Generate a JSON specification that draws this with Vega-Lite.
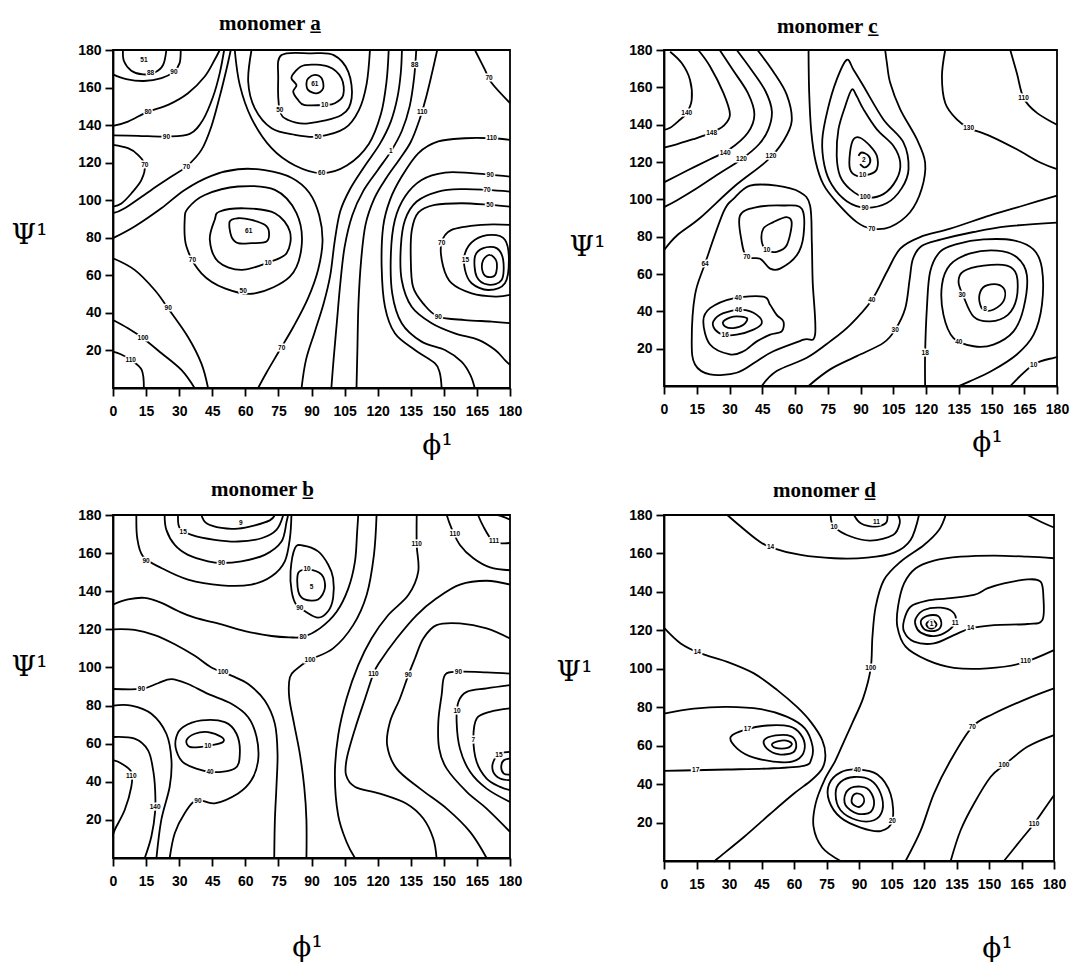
{
"$schema":"https://vega.github.io/schema/vega-lite/v6.json",
"background":"white",
"padding":{"left":10,"top":12,"right":0,"bottom":0},
"columns":2,
"spacing":{"row":127,"column":154},
"bounds":"flush",
"config":{
 "view":{"stroke":"black","strokeWidth":1.8},
 "axis":{"domainColor":"black","domainWidth":1.8,"tickColor":"black","tickWidth":1.8,"tickSize":8,"labelFont":"Liberation Sans","labelFontWeight":"bold","labelFontSize":14,"labelColor":"black","grid":false,"titleFont":"DejaVu Serif","titleFontSize":28,"titleFontWeight":"normal","titleColor":"black","titleBaseline":"middle","titleAlign":"center"},
 "axisX":{"labelFlush":false,"labelPadding":8},
 "axisY":{"titleAngle":0,"labelPadding":4},
 "title":{"font":"Liberation Serif","fontSize":21,"fontWeight":"bold","color":"black"}
},
"concat":[
  {"width":397,"height":338,
   "title":{"text":"monomer  a̲","anchor":"start","frame":"group","dx":106,"offset":9},
   "encoding":{
    "x":{"field":"phi","type":"quantitative","scale":{"domain":[0,180],"nice":false,"zero":false},"axis":{"values":[0,15,30,45,60,75,90,105,120,135,150,165,180],"title":"ϕ¹","titleX":324,"titleY":57}},
    "y":{"field":"psi","type":"quantitative","scale":{"domain":[0,180],"nice":false,"zero":false},"axis":{"values":[20,40,60,80,100,120,140,160,180],"title":"Ψ¹","titleX":-84,"titleY":185}}},
   "layer":[
    {"data":{"name":"a_open"},"mark":{"type":"line","interpolate":"cardinal","color":"black","strokeWidth":1.8},"encoding":{"detail":{"field":"k"},"order":{"field":"n"}}},
    {"data":{"name":"a_closed"},"mark":{"type":"line","interpolate":"cardinal-closed","color":"black","strokeWidth":1.8},"encoding":{"detail":{"field":"k"},"order":{"field":"n"}}},
    {"data":{"name":"a_lab"},"mark":{"type":"text","font":"Liberation Sans","fontSize":6.5,"fontWeight":"bold","fill":"white","stroke":"white","strokeWidth":3},"encoding":{"text":{"field":"t"}}},
    {"data":{"name":"a_lab"},"mark":{"type":"text","font":"Liberation Sans","fontSize":6.5,"fontWeight":"bold","fill":"black"},"encoding":{"text":{"field":"t"}}}
   ]},
  {"width":393,"height":336,
   "title":{"text":"monomer  c̲","anchor":"start","frame":"group","dx":113,"offset":6},
   "encoding":{
    "x":{"field":"phi","type":"quantitative","scale":{"domain":[0,180],"nice":false,"zero":false},"axis":{"values":[0,15,30,45,60,75,90,105,120,135,150,165,180],"title":"ϕ¹","titleX":323,"titleY":56}},
    "y":{"field":"psi","type":"quantitative","scale":{"domain":[0,180],"nice":false,"zero":false},"axis":{"values":[20,40,60,80,100,120,140,160,180],"title":"Ψ¹","titleX":-77,"titleY":197}}},
   "layer":[
    {"data":{"name":"c_open"},"mark":{"type":"line","interpolate":"cardinal","color":"black","strokeWidth":1.8},"encoding":{"detail":{"field":"k"},"order":{"field":"n"}}},
    {"data":{"name":"c_closed"},"mark":{"type":"line","interpolate":"cardinal-closed","color":"black","strokeWidth":1.8},"encoding":{"detail":{"field":"k"},"order":{"field":"n"}}},
    {"data":{"name":"c_lab"},"mark":{"type":"text","font":"Liberation Sans","fontSize":6.5,"fontWeight":"bold","fill":"white","stroke":"white","strokeWidth":3},"encoding":{"text":{"field":"t"}}},
    {"data":{"name":"c_lab"},"mark":{"type":"text","font":"Liberation Sans","fontSize":6.5,"fontWeight":"bold","fill":"black"},"encoding":{"text":{"field":"t"}}}
   ]},
  {"width":397,"height":343,
   "title":{"text":"monomer  b̲","anchor":"start","frame":"group","dx":98,"offset":8},
   "encoding":{
    "x":{"field":"phi","type":"quantitative","scale":{"domain":[0,180],"nice":false,"zero":false},"axis":{"values":[0,15,30,45,60,75,90,105,120,135,150,165,180],"title":"ϕ¹","titleX":194,"titleY":89}},
    "y":{"field":"psi","type":"quantitative","scale":{"domain":[0,180],"nice":false,"zero":false},"axis":{"values":[20,40,60,80,100,120,140,160,180],"title":"Ψ¹","titleX":-84,"titleY":152}}},
   "layer":[
    {"data":{"name":"b_open"},"mark":{"type":"line","interpolate":"cardinal","color":"black","strokeWidth":1.8},"encoding":{"detail":{"field":"k"},"order":{"field":"n"}}},
    {"data":{"name":"b_closed"},"mark":{"type":"line","interpolate":"cardinal-closed","color":"black","strokeWidth":1.8},"encoding":{"detail":{"field":"k"},"order":{"field":"n"}}},
    {"data":{"name":"b_lab"},"mark":{"type":"text","font":"Liberation Sans","fontSize":6.5,"fontWeight":"bold","fill":"white","stroke":"white","strokeWidth":3},"encoding":{"text":{"field":"t"}}},
    {"data":{"name":"b_lab"},"mark":{"type":"text","font":"Liberation Sans","fontSize":6.5,"fontWeight":"bold","fill":"black"},"encoding":{"text":{"field":"t"}}}
   ]},
  {"width":390,"height":346,
   "title":{"text":"monomer  d̲","anchor":"start","frame":"group","dx":109,"offset":7},
   "encoding":{
    "x":{"field":"phi","type":"quantitative","scale":{"domain":[0,180],"nice":false,"zero":false},"axis":{"values":[0,15,30,45,60,75,90,105,120,135,150,165,180],"title":"ϕ¹","titleX":333,"titleY":87}},
    "y":{"field":"psi","type":"quantitative","scale":{"domain":[0,180],"nice":false,"zero":false},"axis":{"values":[20,40,60,80,100,120,140,160,180],"title":"Ψ¹","titleX":-90,"titleY":157}}},
   "layer":[
    {"data":{"name":"d_open"},"mark":{"type":"line","interpolate":"cardinal","color":"black","strokeWidth":1.8},"encoding":{"detail":{"field":"k"},"order":{"field":"n"}}},
    {"data":{"name":"d_closed"},"mark":{"type":"line","interpolate":"cardinal-closed","color":"black","strokeWidth":1.8},"encoding":{"detail":{"field":"k"},"order":{"field":"n"}}},
    {"data":{"name":"d_lab"},"mark":{"type":"text","font":"Liberation Sans","fontSize":6.5,"fontWeight":"bold","fill":"white","stroke":"white","strokeWidth":3},"encoding":{"text":{"field":"t"}}},
    {"data":{"name":"d_lab"},"mark":{"type":"text","font":"Liberation Sans","fontSize":6.5,"fontWeight":"bold","fill":"black"},"encoding":{"text":{"field":"t"}}}
   ]}
],
"datasets":{
"a_open":[
{"k":"a1","n":0,"phi":4.5,"psi":180},{"k":"a1","n":1,"phi":5,"psi":174},{"k":"a1","n":2,"phi":8.3,"psi":169},{"k":"a1","n":3,"phi":13.6,"psi":167},{"k":"a1","n":4,"phi":18.9,"psi":168},{"k":"a1","n":5,"phi":22.7,"psi":172},{"k":"a1","n":6,"phi":24.2,"psi":180},
{"k":"a2","n":0,"phi":30.7,"psi":180},{"k":"a2","n":1,"phi":30.2,"psi":173},{"k":"a2","n":2,"phi":27.6,"psi":168.5},{"k":"a2","n":3,"phi":22,"psi":165},{"k":"a2","n":4,"phi":14,"psi":163.5},{"k":"a2","n":5,"phi":6,"psi":164.5},{"k":"a2","n":6,"phi":0,"psi":167},
{"k":"a3","n":0,"phi":0,"psi":139.6},{"k":"a3","n":1,"phi":6.8,"psi":141.9},{"k":"a3","n":2,"phi":15.9,"psi":147.2},{"k":"a3","n":3,"phi":25,"psi":150.8},{"k":"a3","n":4,"phi":34,"psi":157},{"k":"a3","n":5,"phi":41.6,"psi":165.9},{"k":"a3","n":6,"phi":46.1,"psi":174.8},{"k":"a3","n":7,"phi":48.4,"psi":180},
{"k":"a4","n":0,"phi":0,"psi":134.5},{"k":"a4","n":1,"phi":11.3,"psi":134.3},{"k":"a4","n":2,"phi":24.2,"psi":133.9},{"k":"a4","n":3,"phi":34.8,"psi":135.3},{"k":"a4","n":4,"phi":40.8,"psi":142.8},{"k":"a4","n":5,"phi":45.4,"psi":155.2},{"k":"a4","n":6,"phi":48.4,"psi":167.7},{"k":"a4","n":7,"phi":50.4,"psi":180},
{"k":"a5","n":0,"phi":0,"psi":129.5},{"k":"a5","n":1,"phi":6.8,"psi":127.7},{"k":"a5","n":2,"phi":11.3,"psi":124.2},{"k":"a5","n":3,"phi":14.4,"psi":118.8},{"k":"a5","n":4,"phi":12.9,"psi":110.8},{"k":"a5","n":5,"phi":8.3,"psi":103.6},{"k":"a5","n":6,"phi":3.8,"psi":98.3},{"k":"a5","n":7,"phi":0,"psi":96.6},
{"k":"a6","n":0,"phi":0,"psi":93.1},{"k":"a6","n":1,"phi":5.3,"psi":95.7},{"k":"a6","n":2,"phi":17.4,"psi":105.5},{"k":"a6","n":3,"phi":26.5,"psi":112.6},{"k":"a6","n":4,"phi":33.3,"psi":117.9},{"k":"a6","n":5,"phi":40.1,"psi":126.8},{"k":"a6","n":6,"phi":44.6,"psi":139.3},{"k":"a6","n":7,"phi":48.4,"psi":155.3},{"k":"a6","n":8,"phi":51.4,"psi":169.5},{"k":"a6","n":9,"phi":53.4,"psi":180},
{"k":"a9","n":0,"phi":0,"psi":79.8},{"k":"a9","n":1,"phi":9.8,"psi":86},{"k":"a9","n":2,"phi":21.9,"psi":95.7},{"k":"a9","n":3,"phi":32.5,"psi":105.5},{"k":"a9","n":4,"phi":44.6,"psi":113},{"k":"a9","n":5,"phi":56.7,"psi":116.5},{"k":"a9","n":6,"phi":68.8,"psi":116},{"k":"a9","n":7,"phi":80.9,"psi":112},{"k":"a9","n":8,"phi":89,"psi":104},{"k":"a9","n":9,"phi":93.5,"psi":92},{"k":"a9","n":10,"phi":95,"psi":78},{"k":"a9","n":11,"phi":93,"psi":63},{"k":"a9","n":12,"phi":88.5,"psi":48},{"k":"a9","n":13,"phi":82,"psi":33},{"k":"a9","n":14,"phi":75,"psi":19},{"k":"a9","n":15,"phi":69.5,"psi":8},{"k":"a9","n":16,"phi":65.8,"psi":0},
{"k":"a8","n":0,"phi":55.2,"psi":180},{"k":"a8","n":1,"phi":57.5,"psi":161.3},{"k":"a8","n":2,"phi":62.8,"psi":143.6},{"k":"a8","n":3,"phi":71.9,"psi":127.7},{"k":"a8","n":4,"phi":82.5,"psi":118.5},{"k":"a8","n":5,"phi":94.6,"psi":114.4},{"k":"a8","n":6,"phi":106,"psi":118.5},{"k":"a8","n":7,"phi":116,"psi":130},{"k":"a8","n":8,"phi":121.5,"psi":146},{"k":"a8","n":9,"phi":124,"psi":163},{"k":"a8","n":10,"phi":125,"psi":180},
{"k":"v1","n":0,"phi":85.5,"psi":0},{"k":"v1","n":1,"phi":87.5,"psi":15},{"k":"v1","n":2,"phi":91.5,"psi":30},{"k":"v1","n":3,"phi":95.5,"psi":45},{"k":"v1","n":4,"phi":98.5,"psi":60},{"k":"v1","n":5,"phi":100.5,"psi":78},{"k":"v1","n":6,"phi":103,"psi":94},{"k":"v1","n":7,"phi":107.5,"psi":106},{"k":"v1","n":8,"phi":114,"psi":118},{"k":"v1","n":9,"phi":121,"psi":130},{"k":"v1","n":10,"phi":126,"psi":142},{"k":"v1","n":11,"phi":129,"psi":155},{"k":"v1","n":12,"phi":130.5,"psi":168},{"k":"v1","n":13,"phi":131,"psi":180},
{"k":"v2","n":0,"phi":99,"psi":0},{"k":"v2","n":1,"phi":100,"psi":15},{"k":"v2","n":2,"phi":101.5,"psi":35},{"k":"v2","n":3,"phi":103,"psi":55},{"k":"v2","n":4,"phi":105,"psi":75},{"k":"v2","n":5,"phi":108.5,"psi":92},{"k":"v2","n":6,"phi":113.5,"psi":105},{"k":"v2","n":7,"phi":120,"psi":116},{"k":"v2","n":8,"phi":126,"psi":126},{"k":"v2","n":9,"phi":131,"psi":137},{"k":"v2","n":10,"phi":134.5,"psi":150},{"k":"v2","n":11,"phi":136.5,"psi":165},{"k":"v2","n":12,"phi":137.5,"psi":180},
{"k":"v3","n":0,"phi":110.4,"psi":0},{"k":"v3","n":1,"phi":110.8,"psi":20},{"k":"v3","n":2,"phi":111.3,"psi":45},{"k":"v3","n":3,"phi":112.5,"psi":68},{"k":"v3","n":4,"phi":114.5,"psi":87},{"k":"v3","n":5,"phi":118.5,"psi":101},{"k":"v3","n":6,"phi":124,"psi":112},{"k":"v3","n":7,"phi":130,"psi":122},{"k":"v3","n":8,"phi":135,"psi":131},{"k":"v3","n":9,"phi":139,"psi":143},{"k":"v3","n":10,"phi":142,"psi":155},{"k":"v3","n":11,"phi":144.5,"psi":167},{"k":"v3","n":12,"phi":147,"psi":180},
{"k":"c1","n":0,"phi":180,"psi":132.1},{"k":"c1","n":1,"phi":171.7,"psi":133},{"k":"c1","n":2,"phi":159.6,"psi":133},{"k":"c1","n":3,"phi":147.5,"psi":131.3},{"k":"c1","n":4,"phi":138.4,"psi":125},{"k":"c1","n":5,"phi":130.9,"psi":112.6},{"k":"c1","n":6,"phi":125.6,"psi":100.2},{"k":"c1","n":7,"phi":122.5,"psi":86},{"k":"c1","n":8,"phi":121.8,"psi":64.7},{"k":"c1","n":9,"phi":123.3,"psi":43.3},{"k":"c1","n":10,"phi":127.8,"psi":29.1},{"k":"c1","n":11,"phi":136.9,"psi":20.2},{"k":"c1","n":12,"phi":146,"psi":13.1},{"k":"c1","n":13,"phi":148.2,"psi":7.8},{"k":"c1","n":14,"phi":149,"psi":0},
{"k":"c2","n":0,"phi":180,"psi":112.6},{"k":"c2","n":1,"phi":162.6,"psi":114.4},{"k":"c2","n":2,"phi":150.5,"psi":114.7},{"k":"c2","n":3,"phi":139.9,"psi":110.8},{"k":"c2","n":4,"phi":132.4,"psi":102},{"k":"c2","n":5,"phi":127.8,"psi":89.5},{"k":"c2","n":6,"phi":126,"psi":71.8},{"k":"c2","n":7,"phi":126.6,"psi":50.4},{"k":"c2","n":8,"phi":130.9,"psi":34.5},{"k":"c2","n":9,"phi":139.9,"psi":24.7},{"k":"c2","n":10,"phi":150.5,"psi":20.2},{"k":"c2","n":11,"phi":158,"psi":14},{"k":"c2","n":12,"phi":162,"psi":7},{"k":"c2","n":13,"phi":164,"psi":0},
{"k":"c3","n":0,"phi":180,"psi":104.6},{"k":"c3","n":1,"phi":169.6,"psi":105.5},{"k":"c3","n":2,"phi":158.3,"psi":105.9},{"k":"c3","n":3,"phi":147.5,"psi":104.6},{"k":"c3","n":4,"phi":137.7,"psi":99.3},{"k":"c3","n":5,"phi":132.4,"psi":89.5},{"k":"c3","n":6,"phi":130.5,"psi":75.3},{"k":"c3","n":7,"phi":130.9,"psi":57.5},{"k":"c3","n":8,"phi":135.4,"psi":43.3},{"k":"c3","n":9,"phi":144.5,"psi":34.5},{"k":"c3","n":10,"phi":155,"psi":29.1},{"k":"c3","n":11,"phi":165.7,"psi":25.6},{"k":"c3","n":12,"phi":173.3,"psi":20.2},{"k":"c3","n":13,"phi":177.7,"psi":14.9},{"k":"c3","n":14,"phi":180,"psi":12.3},
{"k":"c4","n":0,"phi":180,"psi":96.6},{"k":"c4","n":1,"phi":170.9,"psi":97.5},{"k":"c4","n":2,"phi":158,"psi":98.4},{"k":"c4","n":3,"phi":145.9,"psi":97.5},{"k":"c4","n":4,"phi":138.5,"psi":93.5},{"k":"c4","n":5,"phi":135.5,"psi":84.2},{"k":"c4","n":6,"phi":135,"psi":70},{"k":"c4","n":7,"phi":136,"psi":54},{"k":"c4","n":8,"phi":141,"psi":44.5},{"k":"c4","n":9,"phi":147.5,"psi":38},{"k":"c4","n":10,"phi":159.6,"psi":36.2},{"k":"c4","n":11,"phi":171.7,"psi":35.4},{"k":"c4","n":12,"phi":180,"psi":34.5},
{"k":"c5","n":0,"phi":180,"psi":86.9},{"k":"c5","n":1,"phi":167.1,"psi":86.9},{"k":"c5","n":2,"phi":153.5,"psi":84.2},{"k":"c5","n":3,"phi":148.9,"psi":77.1},{"k":"c5","n":4,"phi":149.7,"psi":64.7},{"k":"c5","n":5,"phi":153.5,"psi":55.8},{"k":"c5","n":6,"phi":162.6,"psi":50.4},{"k":"c5","n":7,"phi":173.3,"psi":48.7},{"k":"c5","n":8,"phi":180,"psi":49.6},
{"k":"ctr","n":0,"phi":164.1,"psi":180},{"k":"ctr","n":1,"phi":168.6,"psi":169.5},{"k":"ctr","n":2,"phi":171.7,"psi":162.4},{"k":"ctr","n":3,"phi":180,"psi":151.7},
{"k":"b90","n":0,"phi":0,"psi":69.1},{"k":"b90","n":1,"phi":9.8,"psi":62.9},{"k":"b90","n":2,"phi":18.9,"psi":52.2},{"k":"b90","n":3,"phi":25,"psi":42.4},{"k":"b90","n":4,"phi":34,"psi":27.2},{"k":"b90","n":5,"phi":40.1,"psi":13},{"k":"b90","n":6,"phi":43.1,"psi":0},
{"k":"b100","n":0,"phi":0,"psi":36.2},{"k":"b100","n":1,"phi":6.8,"psi":31.8},{"k":"b100","n":2,"phi":13.6,"psi":26.5},{"k":"b100","n":3,"phi":22,"psi":18.5},{"k":"b100","n":4,"phi":31,"psi":9.6},{"k":"b100","n":5,"phi":37,"psi":0},
{"k":"b110","n":0,"phi":0,"psi":19.4},{"k":"b110","n":1,"phi":3.5,"psi":18},{"k":"b110","n":2,"phi":8,"psi":15},{"k":"b110","n":3,"phi":13,"psi":9.6},{"k":"b110","n":4,"phi":14,"psi":0},
{"k":"t4","n":0,"phi":62.8,"psi":180},{"k":"t4","n":1,"phi":61.3,"psi":163.1},{"k":"t4","n":2,"phi":64.3,"psi":148.9},{"k":"t4","n":3,"phi":71.9,"psi":138.3},{"k":"t4","n":4,"phi":82.5,"psi":134.8},{"k":"t4","n":5,"phi":93,"psi":133.9},{"k":"t4","n":6,"phi":105.1,"psi":138.3},{"k":"t4","n":7,"phi":111.5,"psi":148},{"k":"t4","n":8,"phi":115,"psi":162},{"k":"t4","n":9,"phi":116.5,"psi":180}
],
"a_closed":[
{"k":"r1","n":0,"phi":52.9,"psi":88.6},{"k":"r1","n":1,"phi":56.7,"psi":90.4},{"k":"r1","n":2,"phi":62.8,"psi":89.5},{"k":"r1","n":3,"phi":68.8,"psi":86.9},{"k":"r1","n":4,"phi":70.7,"psi":83.3},{"k":"r1","n":5,"phi":69.6,"psi":78},{"k":"r1","n":6,"phi":62.8,"psi":77.1},{"k":"r1","n":7,"phi":56.7,"psi":77.1},{"k":"r1","n":8,"phi":53.7,"psi":80.6},
{"k":"r2","n":0,"phi":48.4,"psi":94},{"k":"r2","n":1,"phi":59.8,"psi":95.7},{"k":"r2","n":2,"phi":73.4,"psi":93.1},{"k":"r2","n":3,"phi":80.2,"psi":83.3},{"k":"r2","n":4,"phi":78.7,"psi":71.8},{"k":"r2","n":5,"phi":70.3,"psi":66.8},{"k":"r2","n":6,"phi":58.2,"psi":62.9},{"k":"r2","n":7,"phi":47.7,"psi":67.3},{"k":"r2","n":8,"phi":43.9,"psi":78.9},{"k":"r2","n":9,"phi":46.1,"psi":89.5},
{"k":"r3","n":0,"phi":34,"psi":95.7},{"k":"r3","n":1,"phi":41.6,"psi":102.8},{"k":"r3","n":2,"phi":56.7,"psi":107.3},{"k":"r3","n":3,"phi":73.4,"psi":105.5},{"k":"r3","n":4,"phi":83.2,"psi":93.1},{"k":"r3","n":5,"phi":85.5,"psi":75.3},{"k":"r3","n":6,"phi":80.2,"psi":59.3},{"k":"r3","n":7,"phi":64.3,"psi":50.4},{"k":"r3","n":8,"phi":50.7,"psi":53.1},{"k":"r3","n":9,"phi":40.1,"psi":61.1},{"k":"r3","n":10,"phi":33.3,"psi":75.3},{"k":"r3","n":11,"phi":32.5,"psi":89.5},
{"k":"t1","n":0,"phi":88.5,"psi":164.9},{"k":"t1","n":1,"phi":91.5,"psi":166.7},{"k":"t1","n":2,"phi":94.6,"psi":164.9},{"k":"t1","n":3,"phi":95.3,"psi":159.6},{"k":"t1","n":4,"phi":92.3,"psi":156.9},{"k":"t1","n":5,"phi":88.5,"psi":158.7},{"k":"t1","n":6,"phi":87.7,"psi":162.2},
{"k":"t2","n":0,"phi":82.5,"psi":168.4},{"k":"t2","n":1,"phi":87,"psi":172},{"k":"t2","n":2,"phi":97.6,"psi":171.1},{"k":"t2","n":3,"phi":103.6,"psi":164.9},{"k":"t2","n":4,"phi":104.4,"psi":156},{"k":"t2","n":5,"phi":100.6,"psi":151.6},{"k":"t2","n":6,"phi":96,"psi":150.7},{"k":"t2","n":7,"phi":86.9,"psi":150.7},{"k":"t2","n":8,"phi":83.9,"psi":153.4},{"k":"t2","n":9,"phi":81.7,"psi":157.8},{"k":"t2","n":10,"phi":83.2,"psi":161.3},{"k":"t2","n":11,"phi":80.9,"psi":164.9},
{"k":"t3","n":0,"phi":76.4,"psi":177.3},{"k":"t3","n":1,"phi":89.9,"psi":178.2},{"k":"t3","n":2,"phi":100.1,"psi":177.3},{"k":"t3","n":3,"phi":106.7,"psi":168.4},{"k":"t3","n":4,"phi":108.2,"psi":154.3},{"k":"t3","n":5,"phi":103.6,"psi":145.4},{"k":"t3","n":6,"phi":88.5,"psi":140.9},{"k":"t3","n":7,"phi":79.4,"psi":142.7},{"k":"t3","n":8,"phi":75.6,"psi":148},{"k":"t3","n":9,"phi":74.9,"psi":164.9},
{"k":"q6","n":0,"phi":159.6,"psi":71.8},{"k":"q6","n":1,"phi":164.1,"psi":78.9},{"k":"q6","n":2,"phi":171.7,"psi":81.5},{"k":"q6","n":3,"phi":177.7,"psi":78.9},{"k":"q6","n":4,"phi":179.5,"psi":68.2},{"k":"q6","n":5,"phi":177.7,"psi":55.8},{"k":"q6","n":6,"phi":170.1,"psi":52.2},{"k":"q6","n":7,"phi":162.6,"psi":55.8},{"k":"q6","n":8,"phi":159.6,"psi":62.9},
{"k":"q7","n":0,"phi":164.1,"psi":70},{"k":"q7","n":1,"phi":167.9,"psi":74.5},{"k":"q7","n":2,"phi":173.9,"psi":74.5},{"k":"q7","n":3,"phi":176.9,"psi":68.2},{"k":"q7","n":4,"phi":176.2,"psi":57.5},{"k":"q7","n":5,"phi":170.1,"psi":55},{"k":"q7","n":6,"phi":164.9,"psi":59.3},
{"k":"q8","n":0,"phi":167.9,"psi":68.2},{"k":"q8","n":1,"phi":170.9,"psi":70.9},{"k":"q8","n":2,"phi":173.9,"psi":67.3},{"k":"q8","n":3,"phi":173.3,"psi":60.2},{"k":"q8","n":4,"phi":169.4,"psi":59.3},{"k":"q8","n":5,"phi":167.4,"psi":62.9}
],
"a_lab":[
{"t":"51","phi":14,"psi":174.5},{"t":"88","phi":17,"psi":167.5},{"t":"90","phi":27.6,"psi":168.5},{"t":"80","phi":15.9,"psi":147.2},{"t":"90","phi":24.2,"psi":133.9},{"t":"70","phi":14.4,"psi":118.8},{"t":"70","phi":33.3,"psi":117.9},{"t":"61","phi":61.5,"psi":83.5},{"t":"10","phi":70.3,"psi":66.8},{"t":"70","phi":36,"psi":68},{"t":"50","phi":59,"psi":51.8},{"t":"90","phi":25,"psi":42.4},{"t":"100","phi":13.6,"psi":26.5},{"t":"110","phi":8,"psi":15},{"t":"70","phi":76.5,"psi":21.5},{"t":"60","phi":94.6,"psi":114.4},{"t":"61","phi":91.5,"psi":162},{"t":"10","phi":96,"psi":150.7},{"t":"50","phi":75.6,"psi":148},{"t":"50","phi":93,"psi":133.9},{"t":"88","phi":136.8,"psi":172},{"t":"110","phi":140.2,"psi":147},{"t":"1","phi":126,"psi":126},{"t":"70","phi":170.5,"psi":165},{"t":"110","phi":171.7,"psi":133},{"t":"90","phi":171,"psi":113.5},{"t":"70","phi":169.6,"psi":105.5},{"t":"50","phi":170.9,"psi":97.5},{"t":"70","phi":149,"psi":77.1},{"t":"90","phi":147.5,"psi":38},{"t":"15","phi":159.8,"psi":68}
],
"c_open":[
{"k":"c1","n":0,"phi":2.8,"psi":179.1},{"k":"c1","n":1,"phi":8.1,"psi":173},{"k":"c1","n":2,"phi":11.9,"psi":164.1},{"k":"c1","n":3,"phi":12.7,"psi":153.4},{"k":"c1","n":4,"phi":10.4,"psi":146.3},{"k":"c1","n":5,"phi":6.6,"psi":141.9},{"k":"c1","n":6,"phi":2.8,"psi":138.3},{"k":"c1","n":7,"phi":0,"psi":137.2},
{"k":"c2","n":0,"phi":15.7,"psi":180},{"k":"c2","n":1,"phi":21.1,"psi":171.2},{"k":"c2","n":2,"phi":27.2,"psi":157},{"k":"c2","n":3,"phi":30.2,"psi":145.5},{"k":"c2","n":4,"phi":27.2,"psi":139.3},{"k":"c2","n":5,"phi":21.8,"psi":135.7},{"k":"c2","n":6,"phi":13.4,"psi":132.2},{"k":"c2","n":7,"phi":5.8,"psi":129.5},{"k":"c2","n":8,"phi":0,"psi":127.7},
{"k":"c3","n":0,"phi":25.5,"psi":180},{"k":"c3","n":1,"phi":31.5,"psi":169.4},{"k":"c3","n":2,"phi":38.4,"psi":157},{"k":"c3","n":3,"phi":41.4,"psi":145.5},{"k":"c3","n":4,"phi":38.4,"psi":135.7},{"k":"c3","n":5,"phi":30,"psi":126.8},{"k":"c3","n":6,"phi":21.1,"psi":121.5},{"k":"c3","n":7,"phi":10.4,"psi":115.3},{"k":"c3","n":8,"phi":0,"psi":109.1},
{"k":"c4","n":0,"phi":33.3,"psi":180},{"k":"c4","n":1,"phi":40,"psi":169.4},{"k":"c4","n":2,"phi":46.5,"psi":157.9},{"k":"c4","n":3,"phi":49.4,"psi":147.2},{"k":"c4","n":4,"phi":47.8,"psi":137.5},{"k":"c4","n":5,"phi":43.5,"psi":129.5},{"k":"c4","n":6,"phi":35.5,"psi":121.5},{"k":"c4","n":7,"phi":26,"psi":114.4},{"k":"c4","n":8,"phi":14.5,"psi":105.5},{"k":"c4","n":9,"phi":5.8,"psi":99.4},{"k":"c4","n":10,"phi":0,"psi":95.8},
{"k":"c5","n":0,"phi":42.8,"psi":180},{"k":"c5","n":1,"phi":50,"psi":168.5},{"k":"c5","n":2,"phi":56.2,"psi":156.1},{"k":"c5","n":3,"phi":58.5,"psi":142},{"k":"c5","n":4,"phi":54.7,"psi":131.3},{"k":"c5","n":5,"phi":47.1,"psi":120.6},{"k":"c5","n":6,"phi":31.8,"psi":106.5},{"k":"c5","n":7,"phi":16.5,"psi":90},{"k":"c5","n":8,"phi":5.8,"psi":80.5},{"k":"c5","n":9,"phi":0,"psi":72.7},
{"k":"c12","n":0,"phi":66.2,"psi":180},{"k":"c12","n":1,"phi":66.5,"psi":157},{"k":"c12","n":2,"phi":67.5,"psi":135.7},{"k":"c12","n":3,"phi":69.5,"psi":120},{"k":"c12","n":4,"phi":73,"psi":108},{"k":"c12","n":5,"phi":79.1,"psi":98.4},{"k":"c12","n":6,"phi":88.3,"psi":87.8},{"k":"c12","n":7,"phi":95.2,"psi":84.3},{"k":"c12","n":8,"phi":103.6,"psi":85.2},{"k":"c12","n":9,"phi":112.7,"psi":93.1},{"k":"c12","n":10,"phi":118,"psi":105.5},{"k":"c12","n":11,"phi":119.6,"psi":119.7},{"k":"c12","n":12,"phi":115.8,"psi":132.2},{"k":"c12","n":13,"phi":108.2,"psi":148.2},{"k":"c12","n":14,"phi":103.6,"psi":162.4},{"k":"c12","n":15,"phi":102.1,"psi":173},{"k":"c12","n":16,"phi":101.3,"psi":180},
{"k":"c17","n":0,"phi":44.8,"psi":0},{"k":"c17","n":1,"phi":51.6,"psi":8},{"k":"c17","n":2,"phi":65.4,"psi":15.1},{"k":"c17","n":3,"phi":76.1,"psi":23.9},{"k":"c17","n":4,"phi":85.3,"psi":32.8},{"k":"c17","n":5,"phi":95.2,"psi":46.1},{"k":"c17","n":6,"phi":102.1,"psi":61.2},{"k":"c17","n":7,"phi":108.2,"psi":73.6},{"k":"c17","n":8,"phi":117.3,"psi":79.8},{"k":"c17","n":9,"phi":131.1,"psi":84.3},{"k":"c17","n":10,"phi":149.4,"psi":91.4},{"k":"c17","n":11,"phi":164.7,"psi":96.7},{"k":"c17","n":12,"phi":180,"psi":102},
{"k":"c18","n":0,"phi":66.2,"psi":0},{"k":"c18","n":1,"phi":76.1,"psi":8.9},{"k":"c18","n":2,"phi":88.3,"psi":16},{"k":"c18","n":3,"phi":100.5,"psi":23.1},{"k":"c18","n":4,"phi":105.9,"psi":30.2},{"k":"c18","n":5,"phi":110.5,"psi":41.7},{"k":"c18","n":6,"phi":112.5,"psi":57},{"k":"c18","n":7,"phi":114,"psi":68},{"k":"c18","n":8,"phi":118,"psi":75},{"k":"c18","n":9,"phi":127,"psi":78.5},{"k":"c18","n":10,"phi":141.8,"psi":82.5},{"k":"c18","n":11,"phi":157.1,"psi":85.5},{"k":"c18","n":12,"phi":180,"psi":87.5},
{"k":"c19","n":0,"phi":119.6,"psi":0},{"k":"c19","n":1,"phi":119.6,"psi":17.7},{"k":"c19","n":2,"phi":120.4,"psi":41.7},{"k":"c19","n":3,"phi":121.9,"psi":61.2},{"k":"c19","n":4,"phi":126.5,"psi":72},{"k":"c19","n":5,"phi":134.1,"psi":76},{"k":"c19","n":6,"phi":146.4,"psi":78.5},{"k":"c19","n":7,"phi":160.1,"psi":78},{"k":"c19","n":8,"phi":169.3,"psi":73},{"k":"c19","n":9,"phi":173.1,"psi":63},{"k":"c19","n":10,"phi":173.1,"psi":43.5},{"k":"c19","n":11,"phi":169.3,"psi":27.5},{"k":"c19","n":12,"phi":161.6,"psi":16.9},{"k":"c19","n":13,"phi":150,"psi":8},{"k":"c19","n":14,"phi":140,"psi":2.5},{"k":"c19","n":15,"phi":135,"psi":0},
{"k":"c23","n":0,"phi":158.6,"psi":0},{"k":"c23","n":1,"phi":169.3,"psi":11.5},{"k":"c23","n":2,"phi":178.5,"psi":15.1},{"k":"c23","n":3,"phi":180,"psi":15.4},
{"k":"ct1","n":0,"phi":158.6,"psi":180},{"k":"ct1","n":1,"phi":161.6,"psi":167.7},{"k":"ct1","n":2,"phi":164.7,"psi":154.3},{"k":"ct1","n":3,"phi":170.8,"psi":146.3},{"k":"ct1","n":4,"phi":180,"psi":140},
{"k":"ct2","n":0,"phi":128.8,"psi":180},{"k":"ct2","n":1,"phi":127.3,"psi":165.9},{"k":"ct2","n":2,"phi":128.8,"psi":151.6},{"k":"ct2","n":3,"phi":134.1,"psi":142.8},{"k":"ct2","n":4,"phi":139.5,"psi":138.3},{"k":"ct2","n":5,"phi":149.4,"psi":133.9},{"k":"ct2","n":6,"phi":161.6,"psi":126.8},{"k":"ct2","n":7,"phi":172.3,"psi":119.7},{"k":"ct2","n":8,"phi":180,"psi":116.2},
{"k":"c16","n":0,"phi":89.1,"psi":123.3},{"k":"c16","n":1,"phi":90.6,"psi":125.1},{"k":"c16","n":2,"phi":93.7,"psi":123.3},{"k":"c16","n":3,"phi":94.4,"psi":119.7},{"k":"c16","n":4,"phi":92.1,"psi":117.1},{"k":"c16","n":5,"phi":89.8,"psi":118.9}
],
"c_closed":[
{"k":"l6","n":0,"phi":18.8,"psi":65.6},{"k":"l6","n":1,"phi":27.2,"psi":93.1},{"k":"l6","n":2,"phi":31.8,"psi":100.2},{"k":"l6","n":3,"phi":39.4,"psi":107.3},{"k":"l6","n":4,"phi":51.6,"psi":107.3},{"k":"l6","n":5,"phi":62.3,"psi":103.8},{"k":"l6","n":6,"phi":66.9,"psi":96.7},{"k":"l6","n":7,"phi":67.7,"psi":77.2},{"k":"l6","n":8,"phi":68.1,"psi":55.9},{"k":"l6","n":9,"phi":69.2,"psi":27.5},{"k":"l6","n":10,"phi":63.9,"psi":24.8},{"k":"l6","n":11,"phi":50.1,"psi":18.6},{"k":"l6","n":12,"phi":42.5,"psi":13.3},{"k":"l6","n":13,"phi":33.3,"psi":7.1},{"k":"l6","n":14,"phi":21.1,"psi":6.2},{"k":"l6","n":15,"phi":14.2,"psi":11.5},{"k":"l6","n":16,"phi":12.7,"psi":23.9},{"k":"l6","n":17,"phi":14.2,"psi":48.8},
{"k":"l7","n":0,"phi":34.8,"psi":91.3},{"k":"l7","n":1,"phi":42.5,"psi":95.8},{"k":"l7","n":2,"phi":54.7,"psi":96.7},{"k":"l7","n":3,"phi":63.1,"psi":94.9},{"k":"l7","n":4,"phi":63.9,"psi":80.7},{"k":"l7","n":5,"phi":60.8,"psi":70},{"k":"l7","n":6,"phi":53.2,"psi":62.9},{"k":"l7","n":7,"phi":48.6,"psi":62.9},{"k":"l7","n":8,"phi":44,"psi":68.2},{"k":"l7","n":9,"phi":37.9,"psi":69.1},{"k":"l7","n":10,"phi":35.6,"psi":77.2},
{"k":"l8","n":0,"phi":45.5,"psi":84.3},{"k":"l8","n":1,"phi":50.1,"psi":87.8},{"k":"l8","n":2,"phi":56.2,"psi":90.5},{"k":"l8","n":3,"phi":58.5,"psi":87},{"k":"l8","n":4,"phi":56.2,"psi":75.4},{"k":"l8","n":5,"phi":51.6,"psi":71.9},{"k":"l8","n":6,"phi":47.1,"psi":72.8},{"k":"l8","n":7,"phi":44.8,"psi":77.2},
{"k":"l9","n":0,"phi":18,"psi":34.6},{"k":"l9","n":1,"phi":21.1,"psi":41.7},{"k":"l9","n":2,"phi":31.8,"psi":47},{"k":"l9","n":3,"phi":45.5,"psi":47.9},{"k":"l9","n":4,"phi":48.6,"psi":43.5},{"k":"l9","n":5,"phi":51.6,"psi":38.1},{"k":"l9","n":6,"phi":54.7,"psi":34.6},{"k":"l9","n":7,"phi":53.9,"psi":29.3},{"k":"l9","n":8,"phi":48.6,"psi":27.5},{"k":"l9","n":9,"phi":42.5,"psi":23.9},{"k":"l9","n":10,"phi":36.4,"psi":18.6},{"k":"l9","n":11,"phi":30.2,"psi":16.9},{"k":"l9","n":12,"phi":21.1,"psi":22.2},
{"k":"l10","n":0,"phi":22.6,"psi":34.6},{"k":"l10","n":1,"phi":27.2,"psi":39},{"k":"l10","n":2,"phi":36.4,"psi":40.8},{"k":"l10","n":3,"phi":42.5,"psi":38.1},{"k":"l10","n":4,"phi":44.8,"psi":33.7},{"k":"l10","n":5,"phi":41,"psi":30.2},{"k":"l10","n":6,"phi":33.3,"psi":27.5},{"k":"l10","n":7,"phi":27.2,"psi":27.5},{"k":"l10","n":8,"phi":23.4,"psi":30.2},
{"k":"l11","n":0,"phi":27.2,"psi":34.6},{"k":"l11","n":1,"phi":31.8,"psi":37.2},{"k":"l11","n":2,"phi":37.9,"psi":36.4},{"k":"l11","n":3,"phi":36.4,"psi":32.8},{"k":"l11","n":4,"phi":31.8,"psi":31},{"k":"l11","n":5,"phi":28,"psi":31.9},
{"k":"l13","n":0,"phi":83.7,"psi":174.7},{"k":"l13","n":1,"phi":79.1,"psi":164.1},{"k":"l13","n":2,"phi":75,"psi":148.2},{"k":"l13","n":3,"phi":72.5,"psi":132},{"k":"l13","n":4,"phi":73.5,"psi":118},{"k":"l13","n":5,"phi":77,"psi":107.5},{"k":"l13","n":6,"phi":83.7,"psi":99},{"k":"l13","n":7,"phi":92.1,"psi":95.5},{"k":"l13","n":8,"phi":102.1,"psi":98},{"k":"l13","n":9,"phi":108.9,"psi":106},{"k":"l13","n":10,"phi":112,"psi":116.2},{"k":"l13","n":11,"phi":109.7,"psi":130.4},{"k":"l13","n":12,"phi":100.5,"psi":142.8},{"k":"l13","n":13,"phi":91.4,"psi":160.6},{"k":"l13","n":14,"phi":86.8,"psi":169.4},
{"k":"l14","n":0,"phi":86,"psi":158.8},{"k":"l14","n":1,"phi":83,"psi":149.9},{"k":"l14","n":2,"phi":79.9,"psi":137.5},{"k":"l14","n":3,"phi":79.1,"psi":123.3},{"k":"l14","n":4,"phi":80.6,"psi":112.6},{"k":"l14","n":5,"phi":85.2,"psi":105.5},{"k":"l14","n":6,"phi":92.1,"psi":101.1},{"k":"l14","n":7,"phi":100.5,"psi":102.8},{"k":"l14","n":8,"phi":106.6,"psi":110.9},{"k":"l14","n":9,"phi":108.2,"psi":119.7},{"k":"l14","n":10,"phi":105.1,"psi":128.6},{"k":"l14","n":11,"phi":97.5,"psi":137.5},{"k":"l14","n":12,"phi":91.4,"psi":148.2},{"k":"l14","n":13,"phi":88.3,"psi":155.2},
{"k":"l15","n":0,"phi":86.8,"psi":132.2},{"k":"l15","n":1,"phi":85.2,"psi":125.1},{"k":"l15","n":2,"phi":85.2,"psi":116.2},{"k":"l15","n":3,"phi":88.3,"psi":112.6},{"k":"l15","n":4,"phi":94.4,"psi":113.5},{"k":"l15","n":5,"phi":97.5,"psi":116.2},{"k":"l15","n":6,"phi":97.5,"psi":123.3},{"k":"l15","n":7,"phi":94.4,"psi":128.6},{"k":"l15","n":8,"phi":89.8,"psi":133},
{"k":"l20","n":0,"phi":132.6,"psi":25.7},{"k":"l20","n":1,"phi":128,"psi":38.1},{"k":"l20","n":2,"phi":127.3,"psi":54.1},{"k":"l20","n":3,"phi":131.1,"psi":65},{"k":"l20","n":4,"phi":140.3,"psi":71},{"k":"l20","n":5,"phi":152.5,"psi":72.5},{"k":"l20","n":6,"phi":161.6,"psi":69},{"k":"l20","n":7,"phi":166.2,"psi":59.4},{"k":"l20","n":8,"phi":164.7,"psi":41.7},{"k":"l20","n":9,"phi":160.1,"psi":29.3},{"k":"l20","n":10,"phi":150.9,"psi":22.2},{"k":"l20","n":11,"phi":141.8,"psi":21.3},
{"k":"l21","n":0,"phi":137.2,"psi":47.9},{"k":"l21","n":1,"phi":134.9,"psi":55.9},{"k":"l21","n":2,"phi":137.2,"psi":61.5},{"k":"l21","n":3,"phi":146.4,"psi":64.5},{"k":"l21","n":4,"phi":157.1,"psi":64.5},{"k":"l21","n":5,"phi":161.5,"psi":59.5},{"k":"l21","n":6,"phi":161.5,"psi":47},{"k":"l21","n":7,"phi":157.5,"psi":38.1},{"k":"l21","n":8,"phi":149.4,"psi":34.6},{"k":"l21","n":9,"phi":141.8,"psi":37.2},
{"k":"l22","n":0,"phi":145,"psi":43},{"k":"l22","n":1,"phi":144.5,"psi":49},{"k":"l22","n":2,"phi":147,"psi":53.5},{"k":"l22","n":3,"phi":152.5,"psi":54.5},{"k":"l22","n":4,"phi":156,"psi":51.5},{"k":"l22","n":5,"phi":155.5,"psi":45.5},{"k":"l22","n":6,"phi":151,"psi":41},{"k":"l22","n":7,"phi":147,"psi":40.5}
],
"c_lab":[
{"t":"140","phi":10.4,"psi":146},{"t":"148","phi":21.8,"psi":135.7},{"t":"140","phi":28,"psi":125},{"t":"120","phi":35.5,"psi":121.5},{"t":"120","phi":49,"psi":123},{"t":"64","phi":18.8,"psi":65.6},{"t":"70","phi":37.9,"psi":69.1},{"t":"10","phi":47.1,"psi":72.8},{"t":"40","phi":34,"psi":47.3},{"t":"46","phi":34.1,"psi":40.6},{"t":"16","phi":28,"psi":27.5},{"t":"70","phi":95.2,"psi":84.3},{"t":"90","phi":92.1,"psi":95.5},{"t":"100","phi":92.1,"psi":101.1},{"t":"10","phi":91,"psi":112.8},{"t":"2","phi":91.5,"psi":121},{"t":"40","phi":95.2,"psi":46.1},{"t":"30","phi":105.9,"psi":30.2},{"t":"18","phi":119.6,"psi":17.7},{"t":"40","phi":135,"psi":23.5},{"t":"30","phi":136.5,"psi":49},{"t":"8","phi":147,"psi":41},{"t":"10","phi":169.3,"psi":11.5},{"t":"110","phi":164.7,"psi":154.3},{"t":"130","phi":139.5,"psi":138.3}
],
"b_open":[
{"k":"b1a","n":0,"phi":40.1,"psi":180},{"k":"b1a","n":1,"phi":42.4,"psi":175.7},{"k":"b1a","n":2,"phi":49.2,"psi":173.2},{"k":"b1a","n":3,"phi":56.7,"psi":172.9},{"k":"b1a","n":4,"phi":64.3,"psi":174.6},{"k":"b1a","n":5,"phi":71.1,"psi":177.2},{"k":"b1a","n":6,"phi":73.4,"psi":180},
{"k":"b1b","n":0,"phi":29.5,"psi":180},{"k":"b1b","n":1,"phi":30.3,"psi":173},{"k":"b1b","n":2,"phi":35.6,"psi":169.6},{"k":"b1b","n":3,"phi":46.1,"psi":167},{"k":"b1b","n":4,"phi":56.7,"psi":166.1},{"k":"b1b","n":5,"phi":67.3,"psi":167.8},{"k":"b1b","n":6,"phi":74.1,"psi":172.2},{"k":"b1b","n":7,"phi":77.2,"psi":180},
{"k":"b1c","n":0,"phi":23.4,"psi":180},{"k":"b1c","n":1,"phi":24.2,"psi":172.2},{"k":"b1c","n":2,"phi":28,"psi":164.3},{"k":"b1c","n":3,"phi":34,"psi":159.1},{"k":"b1c","n":4,"phi":43.1,"psi":155.7},{"k":"b1c","n":5,"phi":49.2,"psi":154.8},{"k":"b1c","n":6,"phi":58.2,"psi":155.7},{"k":"b1c","n":7,"phi":68.8,"psi":159.1},{"k":"b1c","n":8,"phi":76.4,"psi":166.1},{"k":"b1c","n":9,"phi":78.7,"psi":176.5},{"k":"b1c","n":10,"phi":79.4,"psi":180},
{"k":"b1d","n":0,"phi":10.6,"psi":180},{"k":"b1d","n":1,"phi":11,"psi":167.8},{"k":"b1d","n":2,"phi":13.6,"psi":158.3},{"k":"b1d","n":3,"phi":21.9,"psi":152.2},{"k":"b1d","n":4,"phi":34,"psi":146.1},{"k":"b1d","n":5,"phi":49.2,"psi":143.1},{"k":"b1d","n":6,"phi":62.8,"psi":143.5},{"k":"b1d","n":7,"phi":71.9,"psi":147.8},{"k":"b1d","n":8,"phi":77.9,"psi":155.7},{"k":"b1d","n":9,"phi":80.2,"psi":167.8},{"k":"b1d","n":10,"phi":80.9,"psi":180},
{"k":"b2","n":0,"phi":0,"psi":133},{"k":"b2","n":1,"phi":6.8,"psi":135.7},{"k":"b2","n":2,"phi":14.4,"psi":136.5},{"k":"b2","n":3,"phi":22,"psi":133.9},{"k":"b2","n":4,"phi":29.5,"psi":129.6},{"k":"b2","n":5,"phi":37.1,"psi":126.1},{"k":"b2","n":6,"phi":49.2,"psi":122.6},{"k":"b2","n":7,"phi":59.8,"psi":119.1},{"k":"b2","n":8,"phi":71.9,"psi":116.5},{"k":"b2","n":9,"phi":80,"psi":115.8},{"k":"b2","n":10,"phi":86.2,"psi":116.1},{"k":"b2","n":11,"phi":93.8,"psi":120.5},{"k":"b2","n":12,"phi":101.4,"psi":129.2},{"k":"b2","n":13,"phi":106.7,"psi":141.5},{"k":"b2","n":14,"phi":109.7,"psi":155.5},{"k":"b2","n":15,"phi":110.7,"psi":171.3},{"k":"b2","n":16,"phi":111.2,"psi":180},
{"k":"b3","n":0,"phi":0,"psi":120},{"k":"b3","n":1,"phi":9.8,"psi":119.7},{"k":"b3","n":2,"phi":18.9,"psi":117},{"k":"b3","n":3,"phi":28,"psi":112.2},{"k":"b3","n":4,"phi":37.1,"psi":106.1},{"k":"b3","n":5,"phi":44.6,"psi":100},{"k":"b3","n":6,"phi":53.7,"psi":95.7},{"k":"b3","n":7,"phi":61.3,"psi":91.3},{"k":"b3","n":8,"phi":68.8,"psi":82.6},{"k":"b3","n":9,"phi":73.4,"psi":70.4},{"k":"b3","n":10,"phi":74.6,"psi":54.8},{"k":"b3","n":11,"phi":74.1,"psi":37.4},{"k":"b3","n":12,"phi":73.4,"psi":20},{"k":"b3","n":13,"phi":73.1,"psi":0},
{"k":"b4","n":0,"phi":87.7,"psi":0},{"k":"b4","n":1,"phi":87.7,"psi":20},{"k":"b4","n":2,"phi":86.7,"psi":37.4},{"k":"b4","n":3,"phi":84.7,"psi":54.8},{"k":"b4","n":4,"phi":82.1,"psi":70.4},{"k":"b4","n":5,"phi":79.9,"psi":84.3},{"k":"b4","n":6,"phi":80.2,"psi":94.8},{"k":"b4","n":7,"phi":83.2,"psi":99.1},{"k":"b4","n":8,"phi":89.3,"psi":104},{"k":"b4","n":9,"phi":99.8,"psi":110},{"k":"b4","n":10,"phi":108.9,"psi":122.2},{"k":"b4","n":11,"phi":115,"psi":138},{"k":"b4","n":12,"phi":118.3,"psi":159},{"k":"b4","n":13,"phi":119.5,"psi":180},
{"k":"b5","n":0,"phi":137.7,"psi":180},{"k":"b5","n":1,"phi":137.7,"psi":164.3},{"k":"b5","n":2,"phi":138.4,"psi":150.3},{"k":"b5","n":3,"phi":133.9,"psi":138},{"k":"b5","n":4,"phi":124.8,"psi":127.5},{"k":"b5","n":5,"phi":117.2,"psi":115.2},{"k":"b5","n":6,"phi":111.2,"psi":101.2},{"k":"b5","n":7,"phi":105.9,"psi":83.7},{"k":"b5","n":8,"phi":102.1,"psi":64.4},{"k":"b5","n":9,"phi":100.6,"psi":43.4},{"k":"b5","n":10,"phi":102.1,"psi":22.4},{"k":"b5","n":11,"phi":105.9,"psi":8.4},{"k":"b5","n":12,"phi":109.7,"psi":0},
{"k":"b6","n":0,"phi":180,"psi":143.5},{"k":"b6","n":1,"phi":169.4,"psi":145.5},{"k":"b6","n":2,"phi":157.3,"psi":143.5},{"k":"b6","n":3,"phi":146.7,"psi":136.3},{"k":"b6","n":4,"phi":137.7,"psi":127.5},{"k":"b6","n":5,"phi":128.6,"psi":115.2},{"k":"b6","n":6,"phi":121,"psi":103},{"k":"b6","n":7,"phi":118.1,"psi":96.8},{"k":"b6","n":8,"phi":114.3,"psi":83.7},{"k":"b6","n":9,"phi":109.8,"psi":68},{"k":"b6","n":10,"phi":106,"psi":52.2},{"k":"b6","n":11,"phi":105.7,"psi":43.4},{"k":"b6","n":12,"phi":109.8,"psi":37.3},{"k":"b6","n":13,"phi":121,"psi":33.8},{"k":"b6","n":14,"phi":133.1,"psi":28.5},{"k":"b6","n":15,"phi":140.7,"psi":20.7},{"k":"b6","n":16,"phi":145.2,"psi":10.2},{"k":"b6","n":17,"phi":146.7,"psi":0},
{"k":"b7","n":0,"phi":180,"psi":115.2},{"k":"b7","n":1,"phi":169.4,"psi":120.5},{"k":"b7","n":2,"phi":157.3,"psi":123.1},{"k":"b7","n":3,"phi":146.7,"psi":122.2},{"k":"b7","n":4,"phi":140.7,"psi":115.2},{"k":"b7","n":5,"phi":136.9,"psi":104.7},{"k":"b7","n":6,"phi":133.9,"psi":96},{"k":"b7","n":7,"phi":130.1,"psi":83.7},{"k":"b7","n":8,"phi":125.6,"psi":71.5},{"k":"b7","n":9,"phi":124.3,"psi":59.2},{"k":"b7","n":10,"phi":128.6,"psi":46.9},{"k":"b7","n":11,"phi":139.2,"psi":36.4},{"k":"b7","n":12,"phi":151.3,"psi":25.9},{"k":"b7","n":13,"phi":161.9,"psi":13.7},{"k":"b7","n":14,"phi":169.4,"psi":0},
{"k":"b8","n":0,"phi":180,"psi":96.8},{"k":"b8","n":1,"phi":169.4,"psi":97.4},{"k":"b8","n":2,"phi":156.6,"psi":97.7},{"k":"b8","n":3,"phi":150.5,"psi":96},{"k":"b8","n":4,"phi":149,"psi":85.5},{"k":"b8","n":5,"phi":147.5,"psi":71.5},{"k":"b8","n":6,"phi":147.9,"psi":57.4},{"k":"b8","n":7,"phi":151.3,"psi":46.9},{"k":"b8","n":8,"phi":160.4,"psi":34.7},{"k":"b8","n":9,"phi":169.4,"psi":25.9},{"k":"b8","n":10,"phi":180,"psi":13.7},
{"k":"b9","n":0,"phi":180,"psi":90.7},{"k":"b9","n":1,"phi":169.4,"psi":89},{"k":"b9","n":2,"phi":160.4,"psi":87.2},{"k":"b9","n":3,"phi":156.6,"psi":81.9},{"k":"b9","n":4,"phi":155.8,"psi":71.5},{"k":"b9","n":5,"phi":157.3,"psi":57.4},{"k":"b9","n":6,"phi":161.9,"psi":45.2},{"k":"b9","n":7,"phi":169.4,"psi":36.4},{"k":"b9","n":8,"phi":180,"psi":29.4},
{"k":"b10","n":0,"phi":180,"psi":78.5},{"k":"b10","n":1,"phi":170.9,"psi":76.7},{"k":"b10","n":2,"phi":164.9,"psi":73.2},{"k":"b10","n":3,"phi":163.4,"psi":62.7},{"k":"b10","n":4,"phi":164.9,"psi":50.4},{"k":"b10","n":5,"phi":169.4,"psi":41.7},{"k":"b10","n":6,"phi":175.5,"psi":37.3},{"k":"b10","n":7,"phi":180,"psi":35.6},
{"k":"b11","n":0,"phi":180,"psi":55.7},{"k":"b11","n":1,"phi":175.5,"psi":54.8},{"k":"b11","n":2,"phi":172.4,"psi":50.4},{"k":"b11","n":3,"phi":172.4,"psi":45.2},{"k":"b11","n":4,"phi":175.5,"psi":41.7},{"k":"b11","n":5,"phi":180,"psi":40.8},
{"k":"b11b","n":0,"phi":180,"psi":52.2},{"k":"b11b","n":1,"phi":177.2,"psi":51.3},{"k":"b11b","n":2,"phi":176,"psi":47.8},{"k":"b11b","n":3,"phi":177.2,"psi":44.3},{"k":"b11b","n":4,"phi":180,"psi":43.8},
{"k":"b12","n":0,"phi":151.3,"psi":180},{"k":"b12","n":1,"phi":153.5,"psi":173},{"k":"b12","n":2,"phi":157.3,"psi":164.3},{"k":"b12","n":3,"phi":163.4,"psi":157.3},{"k":"b12","n":4,"phi":171,"psi":152.5},{"k":"b12","n":5,"phi":180,"psi":151},
{"k":"b13","n":0,"phi":165.5,"psi":180},{"k":"b13","n":1,"phi":167.9,"psi":174},{"k":"b13","n":2,"phi":171.7,"psi":167},{"k":"b13","n":3,"phi":175.5,"psi":165.3},{"k":"b13","n":4,"phi":180,"psi":165.3},
{"k":"b14","n":0,"phi":174,"psi":180},{"k":"b14","n":1,"phi":177,"psi":179},{"k":"b14","n":2,"phi":180,"psi":177.5},
{"k":"b15","n":0,"phi":0,"psi":88.7},{"k":"b15","n":1,"phi":12.9,"psi":88.7},{"k":"b15","n":2,"phi":20.4,"psi":91.7},{"k":"b15","n":3,"phi":26.5,"psi":93.9},{"k":"b15","n":4,"phi":34,"psi":91.3},{"k":"b15","n":5,"phi":43.1,"psi":86.1},{"k":"b15","n":6,"phi":53.7,"psi":80.9},{"k":"b15","n":7,"phi":61.3,"psi":73.9},{"k":"b15","n":8,"phi":65.1,"psi":63.5},{"k":"b15","n":9,"phi":65.8,"psi":51.3},{"k":"b15","n":10,"phi":62.8,"psi":40.9},{"k":"b15","n":11,"phi":56.7,"psi":33.9},{"k":"b15","n":12,"phi":46.1,"psi":28.7},{"k":"b15","n":13,"phi":37.8,"psi":30.4},{"k":"b15","n":14,"phi":32.5,"psi":23.5},{"k":"b15","n":15,"phi":28,"psi":13},{"k":"b15","n":16,"phi":25.7,"psi":0},
{"k":"b23","n":0,"phi":0,"psi":80},{"k":"b23","n":1,"phi":8.3,"psi":80},{"k":"b23","n":2,"phi":17.4,"psi":75.7},{"k":"b23","n":3,"phi":24.2,"psi":65.2},{"k":"b23","n":4,"phi":26.5,"psi":51.3},{"k":"b23","n":5,"phi":25.7,"psi":37.4},{"k":"b23","n":6,"phi":21.9,"psi":20},{"k":"b23","n":7,"phi":19.7,"psi":0},
{"k":"b19","n":0,"phi":0,"psi":63.5},{"k":"b19","n":1,"phi":9.8,"psi":62.6},{"k":"b19","n":2,"phi":15.9,"psi":56.5},{"k":"b19","n":3,"phi":18.2,"psi":46.1},{"k":"b19","n":4,"phi":19.1,"psi":35.7},{"k":"b19","n":5,"phi":19.1,"psi":24.3},{"k":"b19","n":6,"phi":17.4,"psi":11.3},{"k":"b19","n":7,"phi":14.4,"psi":0},
{"k":"b18","n":0,"phi":0,"psi":51.3},{"k":"b18","n":1,"phi":3.8,"psi":49.6},{"k":"b18","n":2,"phi":8.3,"psi":45.2},{"k":"b18","n":3,"phi":8.3,"psi":37.4},{"k":"b18","n":4,"phi":5.3,"psi":25.2},{"k":"b18","n":5,"phi":0.8,"psi":14.8},{"k":"b18","n":6,"phi":0,"psi":11.3}
],
"b_closed":[
{"k":"i1","n":0,"phi":82.5,"psi":162.6},{"k":"i1","n":1,"phi":86,"psi":164},{"k":"i1","n":2,"phi":93,"psi":160.9},{"k":"i1","n":3,"phi":97.6,"psi":153.9},{"k":"i1","n":4,"phi":99.8,"psi":146.9},{"k":"i1","n":5,"phi":99.8,"psi":136.5},{"k":"i1","n":6,"phi":97.6,"psi":129.6},{"k":"i1","n":7,"phi":93,"psi":126.1},{"k":"i1","n":8,"phi":86.9,"psi":129.6},{"k":"i1","n":9,"phi":83,"psi":133},{"k":"i1","n":10,"phi":81,"psi":140},{"k":"i1","n":11,"phi":80.5,"psi":150.4},
{"k":"i2","n":0,"phi":84,"psi":149.6},{"k":"i2","n":1,"phi":88.5,"psi":151.3},{"k":"i2","n":2,"phi":94.6,"psi":148.7},{"k":"i2","n":3,"phi":96.1,"psi":141.7},{"k":"i2","n":4,"phi":93,"psi":135.7},{"k":"i2","n":5,"phi":86.9,"psi":135.7},{"k":"i2","n":6,"phi":84,"psi":140},
{"k":"m1","n":0,"phi":28.7,"psi":63.5},{"k":"m1","n":1,"phi":31.8,"psi":68.7},{"k":"m1","n":2,"phi":40.1,"psi":72.2},{"k":"m1","n":3,"phi":50.7,"psi":71.3},{"k":"m1","n":4,"phi":56,"psi":65.2},{"k":"m1","n":5,"phi":57.5,"psi":54.8},{"k":"m1","n":6,"phi":55.2,"psi":47},{"k":"m1","n":7,"phi":43.9,"psi":45.2},{"k":"m1","n":8,"phi":32.5,"psi":49.6},{"k":"m1","n":9,"phi":28.7,"psi":56.5},
{"k":"m2","n":0,"phi":33.3,"psi":61.7},{"k":"m2","n":1,"phi":37.1,"psi":65.2},{"k":"m2","n":2,"phi":43.1,"psi":66.1},{"k":"m2","n":3,"phi":49.2,"psi":63.5},{"k":"m2","n":4,"phi":49.9,"psi":60.9},{"k":"m2","n":5,"phi":44.6,"psi":59.1},{"k":"m2","n":6,"phi":40.1,"psi":58.3},{"k":"m2","n":7,"phi":34.8,"psi":58.3}
],
"b_lab":[
{"t":"9","phi":58,"psi":176},{"t":"15","phi":31.8,"psi":171.3},{"t":"90","phi":15,"psi":156},{"t":"90","phi":49.2,"psi":154.8},{"t":"10","phi":88,"psi":151.5},{"t":"5","phi":90,"psi":142},{"t":"90","phi":84.7,"psi":131},{"t":"80","phi":86.2,"psi":116.1},{"t":"100","phi":89.3,"psi":104},{"t":"100","phi":49.9,"psi":97.5},{"t":"90","phi":12.9,"psi":88.7},{"t":"110","phi":8.3,"psi":43},{"t":"140","phi":19.1,"psi":27},{"t":"40","phi":44,"psi":45.3},{"t":"10","phi":43,"psi":59},{"t":"90","phi":38.5,"psi":29.8},{"t":"110","phi":118.1,"psi":96.8},{"t":"90","phi":133.9,"psi":96},{"t":"90","phi":156.6,"psi":97.7},{"t":"110","phi":137.7,"psi":165},{"t":"110","phi":155,"psi":170},{"t":"111","phi":172.8,"psi":166.3},{"t":"10","phi":156,"psi":77},{"t":"7","phi":163.4,"psi":62},{"t":"15","phi":175,"psi":54}
],
"d_open":[
{"k":"d1","n":0,"phi":29.2,"psi":180},{"k":"d1","n":1,"phi":35.4,"psi":174},{"k":"d1","n":2,"phi":43.1,"psi":167},{"k":"d1","n":3,"phi":49.2,"psi":163.2},{"k":"d1","n":4,"phi":63.1,"psi":159.2},{"k":"d1","n":5,"phi":78.5,"psi":157.5},{"k":"d1","n":6,"phi":93.8,"psi":157.8},{"k":"d1","n":7,"phi":106.2,"psi":160.4},{"k":"d1","n":8,"phi":113.8,"psi":167},{"k":"d1","n":9,"phi":117.7,"psi":180},
{"k":"d2","n":0,"phi":76.9,"psi":180},{"k":"d2","n":1,"phi":78.5,"psi":174},{"k":"d2","n":2,"phi":86.2,"psi":168.8},{"k":"d2","n":3,"phi":95.4,"psi":166.7},{"k":"d2","n":4,"phi":105.7,"psi":169.6},{"k":"d2","n":5,"phi":108.8,"psi":175.7},{"k":"d2","n":6,"phi":108,"psi":180},
{"k":"d3","n":0,"phi":87.7,"psi":180},{"k":"d3","n":1,"phi":90.8,"psi":175.7},{"k":"d3","n":2,"phi":96.9,"psi":174},{"k":"d3","n":3,"phi":102.3,"psi":175.7},{"k":"d3","n":4,"phi":103.1,"psi":180},
{"k":"d4","n":0,"phi":167.7,"psi":180},{"k":"d4","n":1,"phi":175.4,"psi":175.7},{"k":"d4","n":2,"phi":180,"psi":173.5},
{"k":"d5","n":0,"phi":130,"psi":180},{"k":"d5","n":1,"phi":126.9,"psi":172.2},{"k":"d5","n":2,"phi":120,"psi":164.4},{"k":"d5","n":3,"phi":109.2,"psi":155.7},{"k":"d5","n":4,"phi":101.5,"psi":146.2},{"k":"d5","n":5,"phi":97.7,"psi":132.3},{"k":"d5","n":6,"phi":96.2,"psi":116.7},{"k":"d5","n":7,"phi":95.4,"psi":100.2},{"k":"d5","n":8,"phi":92,"psi":85},{"k":"d5","n":9,"phi":87,"psi":72},{"k":"d5","n":10,"phi":83,"psi":62},{"k":"d5","n":11,"phi":79,"psi":52},{"k":"d5","n":12,"phi":74,"psi":42},{"k":"d5","n":13,"phi":70,"psi":30},{"k":"d5","n":14,"phi":69,"psi":18},{"k":"d5","n":15,"phi":73,"psi":7},{"k":"d5","n":16,"phi":81.5,"psi":0},
{"k":"d6","n":0,"phi":0.3,"psi":121},{"k":"d6","n":1,"phi":7.7,"psi":113.2},{"k":"d6","n":2,"phi":16.9,"psi":108},{"k":"d6","n":3,"phi":29.2,"psi":103.6},{"k":"d6","n":4,"phi":41.5,"psi":97.6},{"k":"d6","n":5,"phi":52.3,"psi":88.9},{"k":"d6","n":6,"phi":61.5,"psi":80},{"k":"d6","n":7,"phi":68,"psi":72},{"k":"d6","n":8,"phi":73,"psi":63},{"k":"d6","n":9,"phi":74.5,"psi":55},{"k":"d6","n":10,"phi":73,"psi":48},{"k":"d6","n":11,"phi":68,"psi":42},{"k":"d6","n":12,"phi":60,"psi":35.1},{"k":"d6","n":13,"phi":49.2,"psi":24.7},{"k":"d6","n":14,"phi":36.9,"psi":12.5},{"k":"d6","n":15,"phi":24.6,"psi":1.2},{"k":"d6","n":16,"phi":23.5,"psi":0},
{"k":"d7","n":0,"phi":0,"psi":76.7},{"k":"d7","n":1,"phi":13.8,"psi":79.3},{"k":"d7","n":2,"phi":29.2,"psi":80.2},{"k":"d7","n":3,"phi":44.6,"psi":79},{"k":"d7","n":4,"phi":56.9,"psi":75},{"k":"d7","n":5,"phi":65,"psi":69},{"k":"d7","n":6,"phi":68.5,"psi":60},{"k":"d7","n":7,"phi":68,"psi":53},{"k":"d7","n":8,"phi":64.5,"psi":49.5},{"k":"d7","n":9,"phi":47.7,"psi":48.1},{"k":"d7","n":10,"phi":29.2,"psi":47.6},{"k":"d7","n":11,"phi":13.8,"psi":47.2},{"k":"d7","n":12,"phi":0,"psi":46.9},
{"k":"d14","n":0,"phi":180,"psi":157.5},{"k":"d14","n":1,"phi":167.7,"psi":158.3},{"k":"d14","n":2,"phi":152.3,"psi":158.9},{"k":"d14","n":3,"phi":136.9,"psi":158.3},{"k":"d14","n":4,"phi":124.6,"psi":156.3},{"k":"d14","n":5,"phi":116.2,"psi":152.3},{"k":"d14","n":6,"phi":110.8,"psi":144.4},{"k":"d14","n":7,"phi":108,"psi":132.3},{"k":"d14","n":8,"phi":107.7,"psi":121.9},{"k":"d14","n":9,"phi":111.5,"psi":111.5},{"k":"d14","n":10,"phi":121.5,"psi":104.5},{"k":"d14","n":11,"phi":133.8,"psi":100.5},{"k":"d14","n":12,"phi":149.2,"psi":100.2},{"k":"d14","n":13,"phi":164.6,"psi":102.8},{"k":"d14","n":14,"phi":180,"psi":109.7},
{"k":"d19","n":0,"phi":111.5,"psi":0},{"k":"d19","n":1,"phi":118.5,"psi":15.9},{"k":"d19","n":2,"phi":124.6,"psi":35.1},{"k":"d19","n":3,"phi":132.3,"psi":52.4},{"k":"d19","n":4,"phi":142.3,"psi":69.8},{"k":"d19","n":5,"phi":152.3,"psi":76.7},{"k":"d19","n":6,"phi":167.7,"psi":84.5},{"k":"d19","n":7,"phi":180,"psi":89.8},
{"k":"d20","n":0,"phi":132.3,"psi":0},{"k":"d20","n":1,"phi":136.9,"psi":16},{"k":"d20","n":2,"phi":143.1,"psi":29.9},{"k":"d20","n":3,"phi":150.8,"psi":43.8},{"k":"d20","n":4,"phi":156.9,"psi":49.8},{"k":"d20","n":5,"phi":167.7,"psi":59.4},{"k":"d20","n":6,"phi":180,"psi":65.5},
{"k":"d21","n":0,"phi":156.9,"psi":0},{"k":"d21","n":1,"phi":164.6,"psi":10.8},{"k":"d21","n":2,"phi":170.8,"psi":19.4},{"k":"d21","n":3,"phi":176.2,"psi":28.1},{"k":"d21","n":4,"phi":180,"psi":34.2}
],
"d_closed":[
{"k":"d8","n":0,"phi":30.8,"psi":64.6},{"k":"d8","n":1,"phi":38.5,"psi":68.6},{"k":"d8","n":2,"phi":47.7,"psi":70.5},{"k":"d8","n":3,"phi":58,"psi":70},{"k":"d8","n":4,"phi":63,"psi":66},{"k":"d8","n":5,"phi":65,"psi":59.4},{"k":"d8","n":6,"phi":62.5,"psi":53.5},{"k":"d8","n":7,"phi":55.4,"psi":51.3},{"k":"d8","n":8,"phi":41.5,"psi":53.8},{"k":"d8","n":9,"phi":33.8,"psi":58.5},
{"k":"d9","n":0,"phi":46.2,"psi":62.8},{"k":"d9","n":1,"phi":51.5,"psi":65.3},{"k":"d9","n":2,"phi":58.5,"psi":65},{"k":"d9","n":3,"phi":61,"psi":61},{"k":"d9","n":4,"phi":59.5,"psi":56.5},{"k":"d9","n":5,"phi":53.1,"psi":55.5},{"k":"d9","n":6,"phi":47.5,"psi":58.5},
{"k":"d10","n":0,"phi":50,"psi":61.1},{"k":"d10","n":1,"phi":55.4,"psi":62.8},{"k":"d10","n":2,"phi":59,"psi":61.1},{"k":"d10","n":3,"phi":57,"psi":58.8},{"k":"d10","n":4,"phi":51.5,"psi":58.8},
{"k":"R1","n":0,"phi":89.2,"psi":47.6},{"k":"R1","n":1,"phi":98.5,"psi":45},{"k":"R1","n":2,"phi":104.6,"psi":34.7},{"k":"R1","n":3,"phi":105.4,"psi":20.8},{"k":"R1","n":4,"phi":100,"psi":15.6},{"k":"R1","n":5,"phi":90.8,"psi":17.4},{"k":"R1","n":6,"phi":81.5,"psi":22.6},{"k":"R1","n":7,"phi":76.2,"psi":31.3},{"k":"R1","n":8,"phi":76.2,"psi":40},{"k":"R1","n":9,"phi":81.5,"psi":46.1},
{"k":"R2","n":0,"phi":87.7,"psi":43.7},{"k":"R2","n":1,"phi":95.4,"psi":42},{"k":"R2","n":2,"phi":100,"psi":35.1},{"k":"R2","n":3,"phi":100.8,"psi":26.4},{"k":"R2","n":4,"phi":96.9,"psi":21.2},{"k":"R2","n":5,"phi":89.2,"psi":21.2},{"k":"R2","n":6,"phi":81.5,"psi":26.4},{"k":"R2","n":7,"phi":79.2,"psi":35.1},{"k":"R2","n":8,"phi":81.5,"psi":41.1},
{"k":"R3","n":0,"phi":87.7,"psi":38.5},{"k":"R3","n":1,"phi":93.8,"psi":37.7},{"k":"R3","n":2,"phi":96.9,"psi":31.6},{"k":"R3","n":3,"phi":95.4,"psi":25.5},{"k":"R3","n":4,"phi":89.2,"psi":24.7},{"k":"R3","n":5,"phi":83.8,"psi":29},{"k":"R3","n":6,"phi":83.8,"psi":35.1},
{"k":"R4","n":0,"phi":88.5,"psi":35.1},{"k":"R4","n":1,"phi":91.5,"psi":34.2},{"k":"R4","n":2,"phi":92.3,"psi":30.7},{"k":"R4","n":3,"phi":90,"psi":28.1},{"k":"R4","n":4,"phi":86.9,"psi":29.9},{"k":"R4","n":5,"phi":86.9,"psi":33.3},
{"k":"d15","n":0,"phi":110.8,"psi":125.3},{"k":"d15","n":1,"phi":113.8,"psi":132.3},{"k":"d15","n":2,"phi":121.5,"psi":135.4},{"k":"d15","n":3,"phi":130.8,"psi":136.6},{"k":"d15","n":4,"phi":143.1,"psi":138.4},{"k":"d15","n":5,"phi":149.2,"psi":141.8},{"k":"d15","n":6,"phi":156.9,"psi":144.4},{"k":"d15","n":7,"phi":167.7,"psi":146.5},{"k":"d15","n":8,"phi":173.8,"psi":145.3},{"k":"d15","n":9,"phi":175.1,"psi":137.5},{"k":"d15","n":10,"phi":174.6,"psi":125.3},{"k":"d15","n":11,"phi":167.7,"psi":123.3},{"k":"d15","n":12,"phi":152.3,"psi":122.7},{"k":"d15","n":13,"phi":141.5,"psi":121},{"k":"d15","n":14,"phi":133.8,"psi":117.5},{"k":"d15","n":15,"phi":124.6,"psi":113.2},{"k":"d15","n":16,"phi":115.4,"psi":114.1},{"k":"d15","n":17,"phi":110.8,"psi":119.3},
{"k":"d16","n":0,"phi":116.2,"psi":126.2},{"k":"d16","n":1,"phi":120,"psi":130.6},{"k":"d16","n":2,"phi":127.7,"psi":131.8},{"k":"d16","n":3,"phi":133.1,"psi":129.7},{"k":"d16","n":4,"phi":134.6,"psi":125},{"k":"d16","n":5,"phi":131.1,"psi":119.8},{"k":"d16","n":6,"phi":124.6,"psi":117},{"k":"d16","n":7,"phi":118.5,"psi":118.8},{"k":"d16","n":8,"phi":116.2,"psi":122.3},
{"k":"d17","n":0,"phi":118.5,"psi":124.5},{"k":"d17","n":1,"phi":121.5,"psi":127.5},{"k":"d17","n":2,"phi":126.5,"psi":127.5},{"k":"d17","n":3,"phi":128,"psi":123},{"k":"d17","n":4,"phi":125.5,"psi":119.8},{"k":"d17","n":5,"phi":120.5,"psi":120.3},
{"k":"d18","n":0,"phi":121.2,"psi":123.6},{"k":"d18","n":1,"phi":123.8,"psi":125.3},{"k":"d18","n":2,"phi":125.8,"psi":123},{"k":"d18","n":3,"phi":124,"psi":121},{"k":"d18","n":4,"phi":122,"psi":121.5}
],
"d_lab":[
{"t":"14","phi":49.2,"psi":163.2},{"t":"10","phi":78.5,"psi":174},{"t":"11","phi":98,"psi":176.5},{"t":"100","phi":95.4,"psi":100.2},{"t":"14","phi":15.4,"psi":108.6},{"t":"17","phi":14.6,"psi":47.2},{"t":"17","phi":38.5,"psi":68.6},{"t":"14","phi":141.5,"psi":121},{"t":"11","phi":134.4,"psi":124},{"t":"1","phi":123.5,"psi":123.2},{"t":"40","phi":89.2,"psi":47.6},{"t":"20","phi":105.4,"psi":20.8},{"t":"70","phi":142.3,"psi":69.8},{"t":"100","phi":156.9,"psi":49.8},{"t":"110","phi":170.8,"psi":19.4},{"t":"110","phi":166.9,"psi":104}
]
}
}
